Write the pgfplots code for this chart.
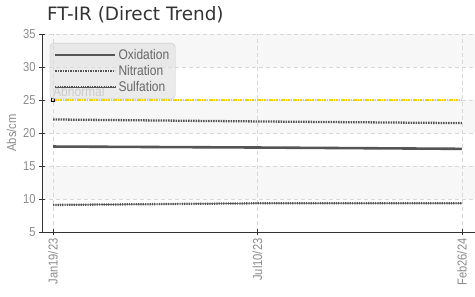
\documentclass[border=0pt]{standalone}
\usepackage{fontspec}
\setmainfont{DejaVu Sans}
\newfontfamily\condfont[FakeStretch=0.86]{Liberation Sans}
\usepackage{pgfplots}
\pgfplotsset{compat=1.18}
\definecolor{band}{HTML}{F7F7F7}
\definecolor{gridc}{HTML}{D8D8D8}
\definecolor{axisc}{HTML}{333333}
\definecolor{tickc}{HTML}{8A8A8A}
\definecolor{titlec}{HTML}{333333}
\definecolor{linec}{HTML}{555555}
\definecolor{legtext}{HTML}{666666}
\definecolor{abn}{HTML}{FFCC00}
\begin{document}
\begin{tikzpicture}
\node[anchor=base west, font=\fontsize{18.5}{22}\selectfont, text=titlec, inner sep=0] at (47bp,276bp) {FT-IR (Direct Trend)};
\begin{axis}[
 set layers,
 at={(42bp,65bp)}, anchor=south west,
 scale only axis, width=433bp, height=198bp,
 xmin=-0.054, xmax=2.064, ymin=5, ymax=35,
 xtick={0,1,2}, xticklabels={Jan19/23,Jul10/23,Feb26/24},
 ytick={5,10,...,35},
 axis x line*=bottom, axis y line*=left,
 axis line style={draw=axisc, line width=0.9pt},
 tick style={draw=axisc, line width=0.8pt},
 tick align=center, major tick length=6bp,
 grid=major, major grid style={dash pattern=on 4bp off 3bp, draw=gridc, line width=0.7pt},
 /pgf/number format/assume math mode=true,
 ticklabel style={font=\condfont\fontsize{13}{15}\selectfont, text=tickc},
 xticklabel style={rotate=90, anchor=east},
 ylabel={Abs/cm},
 ylabel style={font=\condfont\fontsize{13}{15}\selectfont, text=tickc},
 legend style={at={(0.018,0.955)}, anchor=north west, legend cell align=left,
   rounded corners=4bp, fill=black!13, fill opacity=0.6, text opacity=1,
   draw=black!22, font=\condfont\fontsize{14}{16}\selectfont, text=legtext,
   row sep=0.5bp, inner sep=4bp},
 legend image code/.code={\draw[#1] (0bp,0bp) -- (60bp,0bp);},
]
% background bands
\addplot[on layer=axis background, fill=band, draw=none, forget plot] coordinates {(-0.054,30) (2.064,30) (2.064,35) (-0.054,35)} -- cycle;
\addplot[on layer=axis background, fill=band, draw=none, forget plot] coordinates {(-0.054,20) (2.064,20) (2.064,25) (-0.054,25)} -- cycle;
\addplot[on layer=axis background, fill=band, draw=none, forget plot] coordinates {(-0.054,10) (2.064,10) (2.064,15) (-0.054,15)} -- cycle;
% abnormal limit
\addplot[abn, line width=1.6pt, dash pattern=on 1.6bp off 0.8bp, forget plot, mark=square, mark size=1.4bp, mark options={draw=black, solid, line width=0.7pt, fill=white}, mark indices={1}] coordinates {(0,25) (1,25) (2,25)};
\node[anchor=south west, text=black!30, font=\condfont\fontsize{14}{16}\selectfont, inner sep=1bp] at (axis cs:-0.005,25.3) {Abnormal};
% data
\addplot[linec, line width=2.6pt] coordinates {(0,17.95) (1,17.8) (2,17.6)};
\addlegendentry{Oxidation}
\addplot[linec, line width=2.3pt, dash pattern=on 1.6bp off 0.9bp] coordinates {(0,22.05) (1,21.75) (2,21.5)};
\addlegendentry{Nitration}
\addplot[linec, line width=2.3pt, dash pattern=on 1.2bp off 1.1bp, postaction={draw, solid, line width=0.6pt}] coordinates {(0,9.1) (1,9.35) (2,9.35)};
\addlegendentry{Sulfation}
\end{axis}
\pgfresetboundingbox
\path[use as bounding box] (0,0) rectangle (475bp,297bp);
\end{tikzpicture}
\end{document}
